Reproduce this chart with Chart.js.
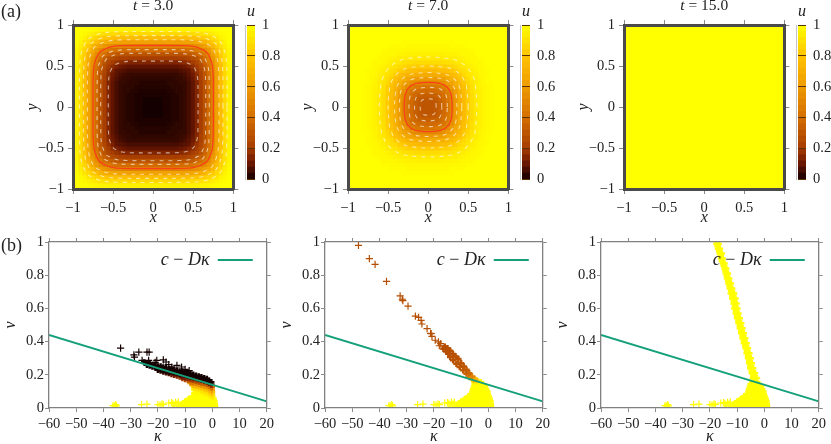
<!DOCTYPE html>
<html>
<head>
<meta charset="utf-8">
<title>u and curvature</title>
<script src="https://cdn.jsdelivr.net/npm/chart.js@4"></script>
<style>
  html, body { margin: 0; background: #fff; }
  #page { position: relative; width: 831px; height: 444px; overflow: hidden; }
  canvas { position: absolute; }
</style>
</head>
<body>
<div id="page"></div>
<script>
// tick labels
const xyTicks = [-1, -0.5, 0, 0.5, 1];
const barTicks = [0, 0.2, 0.4, 0.6, 0.8, 1];
const kappaTicks = [-60, -50, -40, -30, -20, -10, 0, 10, 20];
const vTicks = [0, 0.2, 0.4, 0.6, 0.8, 1];
const barLevels = [0, 0.04, 0.08, 0.12, 0.16, 0.2, 0.24, 0.28, 0.32, 0.36, 0.4, 0.44, 0.48, 0.52, 0.56, 0.6, 0.64, 0.68, 0.72, 0.76, 0.8, 0.84, 0.88, 0.92, 0.96];

// u on the quarter x,y >= 0, rows and columns run 0 .. 1 (the field is symmetric)
const uFieldT3 = [
  [0,0,0,.01,.01,.02,.02,.03,.04,.06,.09,.14,.21,.29,.39,.50,.63,.76,.87,.95,.99],
  [0,0,0,.01,.01,.02,.02,.03,.04,.06,.09,.14,.21,.29,.39,.50,.63,.76,.87,.95,.99],
  [0,0,0,.01,.01,.02,.02,.03,.04,.06,.09,.14,.21,.29,.39,.50,.63,.76,.87,.95,.99],
  [.01,.01,.01,.01,.01,.02,.02,.03,.04,.06,.09,.14,.21,.29,.39,.50,.63,.76,.87,.95,.99],
  [.01,.01,.01,.01,.02,.02,.03,.03,.04,.06,.09,.14,.21,.29,.39,.50,.63,.76,.87,.95,.99],
  [.02,.02,.02,.02,.02,.03,.03,.03,.04,.06,.09,.14,.21,.29,.39,.50,.63,.76,.87,.95,.99],
  [.02,.02,.02,.02,.03,.03,.03,.04,.04,.06,.09,.14,.21,.29,.39,.50,.63,.76,.87,.95,.99],
  [.03,.03,.03,.03,.03,.03,.04,.04,.05,.07,.10,.15,.22,.29,.39,.50,.63,.76,.87,.95,.99],
  [.04,.04,.04,.04,.04,.04,.04,.05,.06,.08,.11,.16,.22,.30,.40,.51,.63,.76,.87,.95,.99],
  [.06,.06,.06,.06,.06,.06,.06,.07,.08,.09,.13,.18,.24,.31,.41,.52,.64,.77,.87,.95,.99],
  [.09,.09,.09,.09,.09,.09,.09,.10,.11,.13,.16,.20,.26,.33,.42,.53,.65,.78,.88,.95,1],
  [.14,.14,.14,.14,.14,.14,.14,.15,.16,.18,.20,.24,.29,.36,.45,.55,.67,.79,.88,.96,1],
  [.21,.21,.21,.21,.21,.21,.21,.22,.22,.24,.26,.29,.34,.40,.48,.58,.69,.81,.89,.96,1],
  [.29,.29,.29,.29,.29,.29,.29,.29,.30,.31,.33,.36,.40,.45,.53,.62,.72,.83,.90,.96,1],
  [.39,.39,.39,.39,.39,.39,.39,.39,.40,.41,.42,.45,.48,.53,.59,.67,.77,.85,.92,.97,1],
  [.50,.50,.50,.50,.50,.50,.50,.50,.51,.52,.53,.55,.58,.62,.67,.74,.82,.88,.94,.98,1],
  [.63,.63,.63,.63,.63,.63,.63,.63,.63,.64,.65,.67,.69,.72,.77,.82,.87,.91,.96,.99,1],
  [.76,.76,.76,.76,.76,.76,.76,.76,.76,.77,.78,.79,.81,.83,.85,.88,.91,.96,.98,1,1],
  [.87,.87,.87,.87,.87,.87,.87,.87,.87,.87,.88,.88,.89,.90,.92,.94,.96,.98,.99,1,1],
  [.95,.95,.95,.95,.95,.95,.95,.95,.95,.95,.95,.95,.96,.96,.97,.98,.99,1,1,1,1],
  [.99,.99,.99,.99,.99,.99,.99,.99,.99,.99,1,1,1,1,1,1,1,1,1,1,1]
];
const uFieldT7 = [
  [.30,.30,.31,.34,.38,.43,.50,.59,.68,.75,.82,.88,.92,.95,.97,.98,.99,1,1,1,1],
  [.30,.30,.31,.34,.38,.43,.50,.59,.68,.75,.82,.88,.92,.95,.97,.98,.99,1,1,1,1],
  [.31,.31,.32,.35,.39,.44,.51,.59,.68,.75,.82,.88,.92,.95,.97,.98,.99,1,1,1,1],
  [.34,.34,.35,.37,.40,.45,.52,.60,.69,.76,.83,.88,.92,.95,.97,.98,.99,1,1,1,1],
  [.38,.38,.39,.40,.43,.48,.55,.62,.70,.77,.83,.89,.93,.95,.97,.98,.99,1,1,1,1],
  [.43,.43,.44,.45,.48,.53,.59,.66,.72,.78,.84,.89,.93,.96,.97,.98,.99,1,1,1,1],
  [.50,.50,.51,.52,.55,.59,.64,.70,.75,.81,.86,.90,.94,.96,.98,.99,.99,1,1,1,1],
  [.59,.59,.59,.60,.62,.66,.70,.74,.78,.83,.88,.92,.94,.96,.98,.99,1,1,1,1,1],
  [.68,.68,.68,.69,.70,.72,.75,.78,.82,.87,.90,.93,.95,.97,.98,.99,1,1,1,1,1],
  [.75,.75,.75,.76,.77,.78,.81,.83,.87,.89,.92,.94,.96,.98,.98,.99,1,1,1,1,1],
  [.82,.82,.82,.83,.83,.84,.86,.88,.90,.92,.94,.96,.97,.98,.99,1,1,1,1,1,1],
  [.88,.88,.88,.88,.89,.89,.90,.92,.93,.94,.96,.97,.98,.98,.99,1,1,1,1,1,1],
  [.92,.92,.92,.92,.93,.93,.94,.94,.95,.96,.97,.98,.98,.99,1,1,1,1,1,1,1],
  [.95,.95,.95,.95,.95,.96,.96,.96,.97,.98,.98,.98,.99,1,1,1,1,1,1,1,1],
  [.97,.97,.97,.97,.97,.97,.98,.98,.98,.98,.99,.99,1,1,1,1,1,1,1,1,1],
  [.98,.98,.98,.98,.98,.98,.99,.99,.99,.99,1,1,1,1,1,1,1,1,1,1,1],
  [.99,.99,.99,.99,.99,.99,.99,1,1,1,1,1,1,1,1,1,1,1,1,1,1],
  [1,1,1,1,1,1,1,1,1,1,1,1,1,1,1,1,1,1,1,1,1],
  [1,1,1,1,1,1,1,1,1,1,1,1,1,1,1,1,1,1,1,1,1],
  [1,1,1,1,1,1,1,1,1,1,1,1,1,1,1,1,1,1,1,1,1],
  [1,1,1,1,1,1,1,1,1,1,1,1,1,1,1,1,1,1,1,1,1]
];
const uFieldT15 = [[1, 1], [1, 1]];

// contours: one octant each, from the x axis to the diagonal
const contoursT3 = [
  [[.92,0],[.917,.46],[.903,.632],[.868,.736],[.82,.82]],
  [[.87,0],[.867,.435],[.853,.598],[.82,.696],[.775,.775]],
  [[.82,0],[.818,.41],[.804,.563],[.773,.656],[.731,.731]],
  [[.70,0],[.698,.35],[.687,.481],[.66,.56],[.624,.624]],
  [[.655,0],[.653,.328],[.643,.45],[.618,.524],[.584,.584]],
  [[.56,0],[.558,.28],[.549,.385],[.528,.448],[.499,.499]]
];
const redContourT3 = [[.75,0],[.748,.375],[.736,.515],[.707,.60],[.668,.668]];
const contoursT7 = [
  [[.61,0],[.586,.293],[.553,.387],[.52,.442],[.484,.484]],
  [[.50,0],[.48,.24],[.454,.318],[.427,.363],[.397,.397]],
  [[.42,0],[.403,.202],[.381,.267],[.358,.305],[.333,.333]],
  [[.36,0],[.346,.173],[.327,.229],[.307,.261],[.286,.286]],
  [[.24,0],[.23,.115],[.218,.152],[.205,.174],[.19,.19]],
  [[.17,0],[.163,.082],[.154,.108],[.145,.123],[.135,.135]],
  [[.10,0],[.096,.048],[.091,.064],[.085,.073],[.079,.079]]
];
const redContourT7 = [[.30,0],[.288,.144],[.272,.19],[.256,.218],[.238,.238]];

// the straight line c - D kappa
const lineKappa = [-60, 20];
const lineV = [0.44, 0.04];

// separate crosses, all yellow: [kappa, v]
const tailPoints = [
  [-36.5,.015],[-36,.012],[-35.5,.02],[-35.2,.013],[-26,.02],[-24,.023],[-20,.02],[-19.2,.018],[-18.5,.025],[-18,.02],
  [-16,.03],[-15,.032],[-14.5,.028],[-13.5,.036],[-12.5,.035],[-14,.012],[-12.5,.012],[-13,.024]
];
// solid foot, the same in every scatter panel: [kappa, v]
const footPoints = [
  [-11,.01],[-9.5,.01],[-8,.01],[-6.5,.01],[-5,.01],[-3.5,.01],[-2,.01],[-.5,.01],[.6,.01],[1,.01],
  [-11,.025],[-9,.025],[-7.5,.025],[-6,.025],[-4.5,.025],[-3,.025],[-1.5,.025],[0,.025],[.9,.025],
  [-10,.04],[-8.5,.04],[-7,.04],[-5.5,.04],[-4,.04],[-2.5,.04],[-1,.04],[.2,.04],[.8,.04],
  [-8.6,.055],[-8,.055],[-6.5,.055],[-5,.055],[-3.5,.055],[-2,.055],[-.5,.055],[.5,.055]
];
// yellow body above the foot, t = 7 and t = 15
const bodyPoints = [
  [-7.4,.07],[-6.8,.07],[-5.5,.07],[-4,.07],[-2.5,.07],[-1,.07],[.2,.07],
  [-6.4,.085],[-5.8,.085],[-4.5,.085],[-3,.085],[-1.5,.085],[-.2,.085],
  [-5.8,.10],[-5.2,.10],[-3.8,.10],[-2.4,.10],[-1,.10],[-.3,.10],
  [-5.6,.115],[-4.8,.115],[-3.4,.115],[-2,.115],[-.8,.115],
  [-5.3,.13],[-4.5,.13],[-3,.13],[-1.8,.13],[-1.2,.13],
  [-5,.145],[-4.2,.145],[-2.8,.145],[-2,.145]
];
// t = 3: separate black crosses [kappa, v, u] and the solid cloud
const looseT3 = [
  [-33.7,.361,0],[-28.8,.32,0],[-28.6,.307,0],[-27,.337,0],[-24,.337,0],[-23.2,.337,0],[-25.8,.287,0],[-23.4,.287,0],
  [-20.4,.287,0],[-18,.29,0],[-17,.277,0],[-14.9,.247,0],[-13,.257,0],[-11.3,.247,0],[-10,.233,0],[-21,.275,0],[-16,.262,0],[-8.5,.225,0]
];
const cloudT3 = [
  [-25,.275,0],[-24,.27,0],[-24,.26,0],[-23,.265,0],[-23,.255,0],[-22,.26,0],[-22,.25,0],[-21,.255,0],[-21,.245,0],
  [-20,.25,0],[-20,.24,0],[-20,.23,.02],[-19,.25,0],[-19,.235,0],[-19,.225,.03],[-18,.245,0],[-18,.23,0],[-18,.22,.04],
  [-17,.24,0],[-17,.225,.01],[-17,.215,.06],[-16,.235,0],[-16,.22,.01],[-16,.21,.08],[-15,.235,0],[-15,.22,.01],[-15,.205,.1],
  [-14,.23,0],[-14,.215,.01],[-14,.2,.12],[-13,.225,0],[-13,.21,.02],[-13,.195,.15],[-12,.22,0],[-12,.205,.02],[-12,.19,.18],
  [-11,.22,0],[-11,.205,.02],[-11,.19,.1],[-11,.18,.22],[-10,.215,0],[-10,.2,.02],[-10,.185,.12],[-10,.175,.28],
  [-9,.21,0],[-9,.195,.03],[-9,.18,.15],[-9,.17,.35],[-8,.205,0],[-8,.19,.04],[-8,.175,.18],[-8,.16,.42],[-8,.15,.6],
  [-7,.2,0],[-7,.185,.05],[-7,.17,.22],[-7,.155,.45],[-7,.14,.72],[-6.8,.125,.9],[-6.6,.11,.97],[-6.6,.09,1],[-7.3,.07,1],
  [-6,.195,0],[-6,.18,.05],[-6,.165,.25],[-6,.15,.5],[-6,.135,.75],[-6,.12,.9],[-6,.10,.97],[-6,.085,1],[-6,.07,1],
  [-5,.19,0],[-5,.175,.06],[-5,.16,.28],[-5,.145,.55],[-5,.13,.78],[-5,.115,.92],[-5,.10,.98],[-5,.085,1],[-5,.07,1],
  [-4,.185,0],[-4,.17,.07],[-4,.155,.3],[-4,.14,.55],[-4,.125,.78],[-4,.11,.9],[-4,.095,.97],[-4,.08,1],[-4,.065,1],
  [-3,.18,0],[-3,.165,.08],[-3,.15,.32],[-3,.135,.57],[-3,.12,.78],[-3,.105,.9],[-3,.09,.96],[-3,.075,1],
  [-2,.175,0],[-2,.16,.1],[-2,.145,.35],[-2,.13,.58],[-2,.115,.78],[-2,.1,.88],[-2,.085,.95],[-2,.07,1],
  [-1.2,.165,0],[-1.2,.15,.12],[-1,.135,.38],[-1,.12,.6],[-1,.105,.78],[-1,.09,.88],[-1,.075,.95],[-1,.06,1],
  [-.4,.155,0],[-.3,.14,.15],[-.2,.125,.4],[-.2,.11,.62],[-.1,.095,.78],[-.1,.08,.88],[0,.065,.95],[0,.05,1]
];
// t = 7: separate crosses and the solid lower part of the branch
const looseT7 = [
  [-47.7,.98,.27],[-43.7,.90,.27],[-41.6,.865,.27],[-37.4,.763,.27],[-32.4,.675,.27],[-31.6,.655,.27],[-31.4,.647,.27],
  [-29.5,.614,.27],[-26.8,.554,.27],[-25.6,.546,.27],[-24.7,.528,.27],[-24.4,.506,.27],[-22.5,.478,.27],[-21,.448,.27],
  [-20.7,.432,.27],[-21.2,.45,.27],[-19.5,.408,.27],[-18.3,.398,.27],[-17.5,.388,.27],[-18,.375,.27]
];
const cloudT7 = [
  [-16.5,.357,.27],[-16,.37,.27],[-15.5,.341,.27],[-15,.36,.27],[-14.7,.327,.28],[-14,.345,.28],[-14,.307,.28],[-13,.325,.28],
  [-12.9,.287,.29],[-12,.31,.29],[-11.7,.267,.29],[-11,.295,.29],[-10.5,.247,.3],[-10,.27,.3],[-9.2,.227,.32],[-9,.25,.31],
  [-8,.207,.36],[-8,.23,.33],[-7,.21,.38],[-6.8,.187,.5],[-6,.19,.5],[-5.6,.173,.75],[-5,.175,.7],[-4.4,.168,.85],
  [-5.2,.16,.95],[-4,.16,.95],[-2.8,.155,1]
];
// t = 15 band, only kappa and v because all of it is yellow
const bandPoints = [
  [-17.6,.99],[-16.8,.99],[-17.2,.975],[-17,.96],[-16.3,.96],[-16.6,.945],[-16.4,.93],[-15.6,.93],[-16,.915],[-15.9,.90],[-15.3,.90],
  [-15.6,.885],[-15.2,.87],[-14.6,.87],[-14.9,.855],[-14.6,.84],[-14,.84],[-14.3,.825],[-14.2,.81],[-13.4,.81],[-13.8,.795],
  [-13.7,.78],[-12.9,.78],[-13.3,.765],[-13.2,.75],[-12.3,.75],[-12.8,.735],[-12.7,.72],[-11.8,.72],[-12.2,.705],[-12.3,.69],[-11.1,.69],
  [-11.7,.675],[-11.8,.66],[-10.6,.66],[-11.2,.645],[-11.3,.63],[-10.2,.63],[-10.8,.615],[-11,.60],[-9.9,.60],[-10.4,.585],
  [-10.5,.57],[-9.5,.57],[-10,.555],[-10,.54],[-9,.54],[-9.5,.525],[-9.5,.51],[-8.5,.51],[-9,.495],[-9,.48],[-8,.48],[-8.5,.465],
  [-8.5,.45],[-7.5,.45],[-8,.435],[-8,.42],[-7,.42],[-7.5,.405],[-7.5,.39],[-6.5,.39],[-7,.375],[-6.9,.36],[-6,.36],[-6.4,.345],
  [-6.5,.33],[-5.5,.33],[-6,.315],[-6,.30],[-5,.30],[-5.5,.285],[-5.6,.27],[-4.6,.27],[-5.1,.255],[-5.2,.24],[-4.1,.24],[-4.6,.225],
  [-4.6,.21],[-3.4,.21],[-4,.195],[-4.2,.18],[-2.8,.18],[-3.5,.165],[-4.4,.16],[-2.6,.155]
];

const uColorStops = [[0,[20,0,0]],[0.1,[105,22,0]],[0.2,[165,60,0]],[0.4,[212,110,0]],[0.6,[238,156,0]],[0.8,[255,196,0]],[1,[255,255,0]]];

function uColor(u) {
  let i = 1;
  while (i < uColorStops.length - 1 && u > uColorStops[i][0]) i++;
  const [u0, c0] = uColorStops[i - 1];
  const [u1, c1] = uColorStops[i];
  const t = (u - u0) / (u1 - u0);
  const c = c0.map((v, k) => Math.round(v + (c1[k] - v) * t));
  return `rgb(${c[0]},${c[1]},${c[2]})`;
}

function minus(v) {
  return String(v).replace('-', '\u2212');
}

// octant -> closed loop through all four quadrants
function closeContour(oct) {
  const q = [...oct, ...oct.slice(0, -1).reverse().map(([x, y]) => [y, x])];
  const half = [...q, ...q.slice(0, -1).reverse().map(([x, y]) => [-x, y])];
  const full = [...half, ...half.slice(0, -1).reverse().map(([x, y]) => [x, -y])];
  return full.map(([x, y]) => ({ x, y }));
}

const page = document.getElementById('page');

function addCanvas(left, top, width, height) {
  const c = document.createElement('canvas');
  c.width = width;
  c.height = height;
  c.style.left = left + 'px';
  c.style.top = top + 'px';
  page.appendChild(c);
  return c;
}

const textColor = '#222';
const serif = '"Liberation Serif", serif';
Chart.defaults.font.family = serif;
Chart.defaults.font.size = 14.5;
Chart.defaults.color = textColor;
Chart.defaults.animation = false;

function textRuns(ctx, x, y, size, runs, centered) {
  ctx.save();
  ctx.fillStyle = textColor;
  ctx.textBaseline = 'alphabetic';
  ctx.textAlign = 'left';
  const fontOf = italic => `${italic ? 'italic ' : ''}${size}px ${serif}`;
  if (centered) {
    let w = 0;
    runs.forEach(([s, italic]) => { ctx.font = fontOf(italic); w += ctx.measureText(s).width; });
    x -= w / 2;
  }
  runs.forEach(([s, italic]) => {
    ctx.font = fontOf(italic);
    ctx.fillText(s, x, y);
    x += ctx.measureText(s).width;
  });
  ctx.restore();
}

function fixedAxes(o) {
  // x, y and the mirrored top/right axes, with sizes that pin the plot area
  const grid = { drawOnChartArea: false, color: o.tickColor, tickLength: o.tickLength, lineWidth: 1 };
  const border = { color: o.frameColor, width: o.frameWidth, z: 2 };
  const mirror = { display: false };
  const ticksFrom = list => s => { s.ticks = list.map(value => ({ value })); };
  return {
    x: {
      type: 'linear', min: o.xTicks[0], max: o.xTicks[o.xTicks.length - 1], position: 'bottom', grid, border,
      afterBuildTicks: ticksFrom(o.xTicks),
      ticks: { padding: o.xPad, maxRotation: 0, autoSkip: false, callback: minus },
      title: { display: true, text: o.xTitle, padding: { top: 0, bottom: o.xTitlePad }, font: { style: 'italic', size: 16 } },
      afterFit: s => { s.height = o.bottom; }
    },
    y: {
      type: 'linear', min: o.yTicks[0], max: o.yTicks[o.yTicks.length - 1], position: 'left', grid, border,
      afterBuildTicks: ticksFrom(o.yTicks),
      ticks: { padding: o.yPad, autoSkip: false, callback: minus },
      title: { display: true, text: o.yTitle, padding: { top: o.yTitlePad, bottom: 0 }, font: { style: 'italic', size: 16 } },
      afterFit: s => { s.width = o.left; }
    },
    x2: {
      axis: 'x', type: 'linear', min: o.xTicks[0], max: o.xTicks[o.xTicks.length - 1], position: 'top', grid, border,
      afterBuildTicks: ticksFrom(o.xTicks), ticks: mirror,
      afterFit: s => { s.height = o.top; }
    },
    y2: {
      axis: 'y', type: 'linear', min: o.yTicks[0], max: o.yTicks[o.yTicks.length - 1], position: 'right', grid, border,
      afterBuildTicks: ticksFrom(o.yTicks), ticks: mirror,
      afterFit: s => { s.width = o.right; }
    }
  };
}

function heatPanel(left, field, contours, redContour, time, tag) {
  const n = field.length;
  const step = 1 / (n - 1);
  const cells = [];
  const colors = [];
  for (let j = 1 - n; j < n; j++) {
    for (let i = 1 - n; i < n; i++) {
      cells.push({ x: i * step, y: j * step });
      colors.push(uColor(field[Math.abs(j)][Math.abs(i)]));
    }
  }
  const datasets = [];
  if (redContour) {
    datasets.push({ data: closeContour(redContour), showLine: true, tension: 0.35, borderColor: '#f8401a', borderWidth: 1.3, pointRadius: 0 });
  }
  contours.forEach(c => {
    datasets.push({ data: closeContour(c), showLine: true, tension: 0.35, borderColor: 'rgba(255,255,255,0.6)', borderWidth: 1.1, borderDash: [4, 5], pointRadius: 0 });
  });
  datasets.push({
    data: cells, pointStyle: 'rect', pointRadius: (step * 82 + 1) * Math.SQRT1_2, pointBorderWidth: 0,
    pointBackgroundColor: colors, showLine: false
  });
  new Chart(addCanvas(left, 0, 242, 228), {
    type: 'scatter',
    data: { datasets },
    options: {
      responsive: false,
      events: [],
      layout: { autoPadding: false },
      plugins: { legend: { display: false }, tooltip: { enabled: false } },
      scales: fixedAxes({
        xTicks: xyTicks, yTicks: xyTicks, xTitle: 'x', yTitle: 'y',
        left: 73, right: 6, top: 25, bottom: 39, tickLength: 5, tickColor: '#8a8a8a',
        frameColor: '#4a4a4a', frameWidth: 3, xPad: 5, yPad: 4, xTitlePad: 1, yTitlePad: 23
      })
    },
    plugins: [{
      id: 'panelText',
      afterDraw(chart) {
        const a = chart.chartArea;
        textRuns(chart.ctx, (a.left + a.right) / 2, 9.5, 15.5, [['t', true], [' = ' + time, false]], true);
        if (tag) textRuns(chart.ctx, 1, 17, 18, [[tag, false]]);
      }
    }]
  });
}

function colorBar(left) {
  const stepSize = barLevels[1] - barLevels[0];
  new Chart(addCanvas(left - 2, 0, 46, 195), {
    type: 'bar',
    data: {
      labels: ['u'],
      datasets: barLevels.map(level => ({ data: [stepSize], backgroundColor: uColor(level + stepSize / 2), barPercentage: 1, categoryPercentage: 1 }))
    },
    options: {
      responsive: false,
      events: [],
      layout: { padding: { left: 2, bottom: 6 } },
      plugins: { legend: { display: false }, tooltip: { enabled: false } },
      scales: {
        x: {
          position: 'top', stacked: true, grid: { display: false }, border: { display: false }, ticks: { display: false },
          title: { display: true, text: 'u', padding: { top: 2, bottom: 0 }, font: { style: 'italic', size: 16 } },
          afterFit: s => { s.height = 25; }
        },
        y: {
          type: 'linear', position: 'right', stacked: true, min: 0, max: 1,
          grid: { color: '#5c3200', z: 1, drawTicks: false, lineWidth: 1 },
          border: { color: '#8a8a8a', width: 1 },
          afterBuildTicks: s => { s.ticks = barTicks.map(value => ({ value })); },
          ticks: { padding: 7, autoSkip: false, callback: minus },
          afterFit: s => { s.width = 36; }
        }
      }
    }
  });
}

function scatterPanel(left, loose, cloud, tag) {
  // darker points are plotted last, separate crosses stay thin
  const solid = [...cloud].sort((a, b) => b[2] - a[2]);
  const points = [...solid, ...loose];
  const isLoose = i => i >= solid.length;
  new Chart(addCanvas(left, 225, 277, 222), {
    type: 'scatter',
    data: {
      datasets: [
        {
          data: lineKappa.map((x, i) => ({ x, y: lineV[i] })), showLine: true,
          borderColor: '#14a07a', borderWidth: 1.8, pointRadius: 0
        },
        {
          data: points.map(p => ({ x: p[0], y: p[1] })), showLine: false, pointStyle: 'cross',
          pointRadius: points.map((p, i) => isLoose(i) ? 3.6 : 3.2),
          pointBorderWidth: points.map((p, i) => isLoose(i) ? 1.2 : 2.5),
          pointBorderColor: points.map(p => uColor(p[2]))
        }
      ]
    },
    options: {
      responsive: false,
      events: [],
      layout: { autoPadding: false },
      plugins: { legend: { display: false }, tooltip: { enabled: false } },
      scales: fixedAxes({
        xTicks: kappaTicks, yTicks: vTicks, xTitle: '\u03ba', yTitle: 'v',
        left: 49, right: 8, top: 17, bottom: 39, tickLength: 4, tickColor: '#8a8a8a',
        frameColor: '#808080', frameWidth: 1.3, xPad: 3, yPad: 1, xTitlePad: 1, yTitlePad: 1
      })
    },
    plugins: [{
      id: 'panelText',
      afterDraw(chart) {
        const a = chart.chartArea;
        const ctx = chart.ctx;
        textRuns(ctx, a.right - 106, a.top + 23, 18, [['c', true], [' \u2212 ', false], ['D\u03ba', true]]);
        ctx.save();
        ctx.strokeStyle = '#14a07a';
        ctx.lineWidth = 1.8;
        ctx.beginPath();
        ctx.moveTo(a.right - 49, a.top + 18);
        ctx.lineTo(a.right - 14, a.top + 18);
        ctx.stroke();
        ctx.restore();
        if (tag) textRuns(ctx, 1, 26, 18, [[tag, false]]);
      }
    }]
  });
}

const yellow = list => list.map(p => [p[0], p[1], 1]);

heatPanel(0, uFieldT3, contoursT3, redContourT3, '3.0', '(a)');
heatPanel(275, uFieldT7, contoursT7, redContourT7, '7.0');
heatPanel(551, uFieldT15, [], null, '15.0');
colorBar(247);
colorBar(522);
colorBar(798);

scatterPanel(0, [...yellow(tailPoints), ...looseT3], [...yellow(footPoints), ...cloudT3], '(b)');
scatterPanel(276, [...yellow(tailPoints), ...looseT7], [...yellow(footPoints), ...yellow(bodyPoints), ...cloudT7]);
scatterPanel(552, yellow(tailPoints), [...yellow(footPoints), ...yellow(bodyPoints), ...yellow(bandPoints)]);
</script>
</body>
</html>
